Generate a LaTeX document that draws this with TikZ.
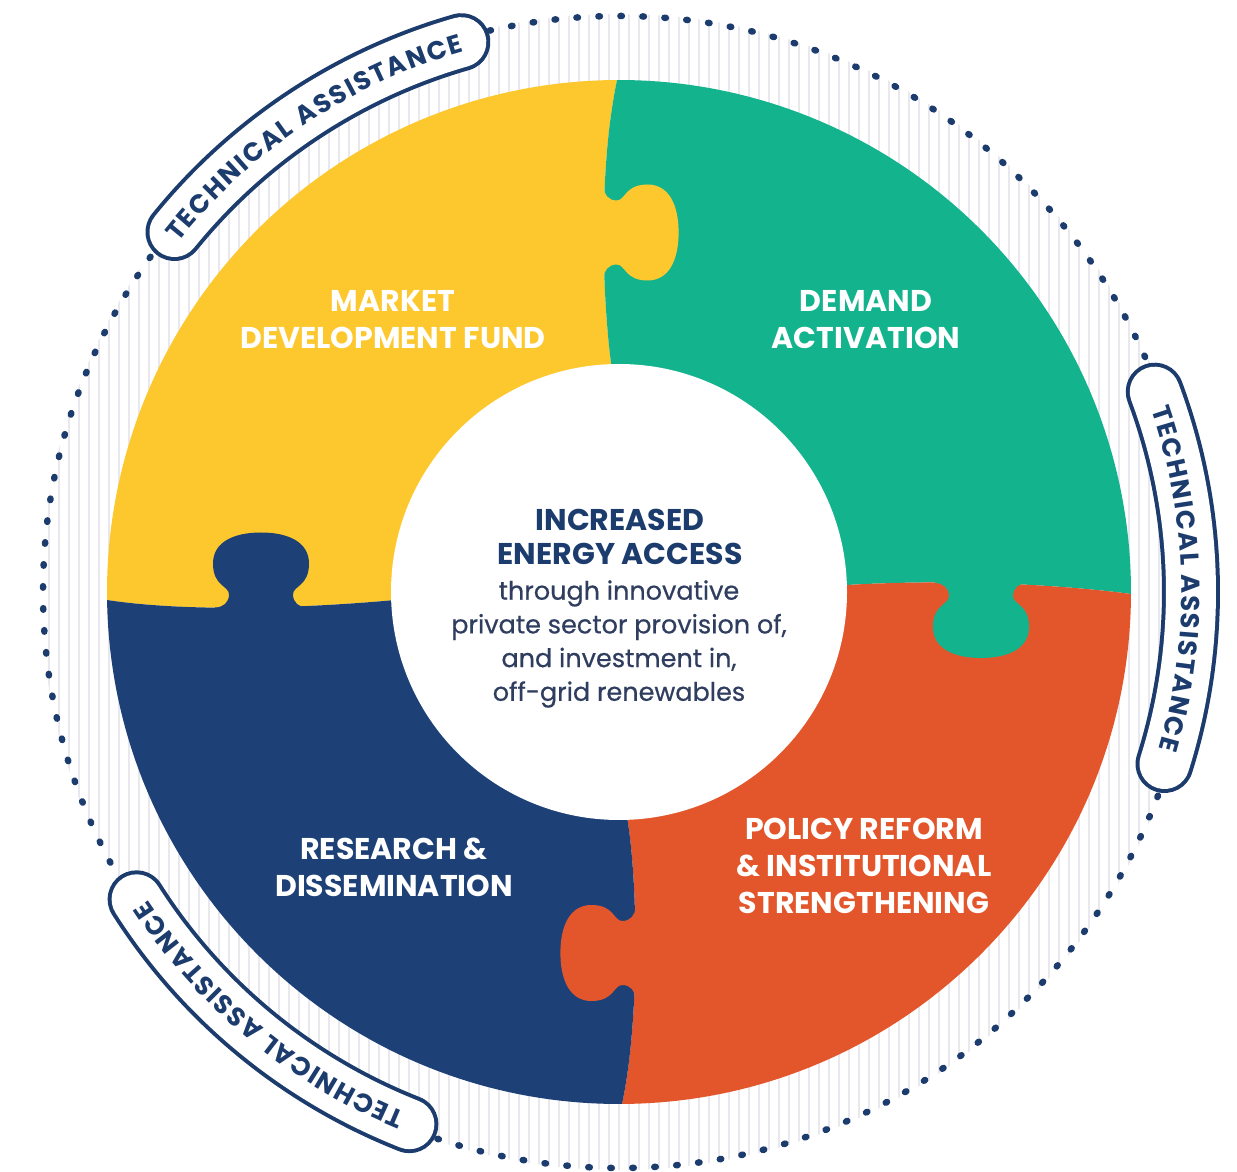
\documentclass[tikz,border=0pt]{standalone}
\usepackage{fontspec}
\setmainfont{Poppins}
\newfontfamily\submed{Poppins}[FakeBold=0.5]
\usetikzlibrary{decorations.text}
\definecolor{pyellow}{HTML}{FDC82E}
\definecolor{pgreen}{HTML}{13B38D}
\definecolor{porange}{HTML}{E3562B}
\definecolor{pblue}{HTML}{1D4177}
\definecolor{tanavy}{HTML}{1C3C6E}
\definecolor{subtxt}{HTML}{2F3D5E}
\definecolor{hatchc}{HTML}{E8E8EE}
\tikzset{
  hatch/.style={hatchc, line width=1.4pt},
  dotring/.style={tanavy, line width=6.5pt, line cap=round, dash pattern=on 1.5pt off 20.5pt},
  capout/.style={tanavy, line width=58pt, line cap=round},
  capin/.style={white, line width=50pt, line cap=round},
  piecelabel/.style={text=white, align=center, font=\bfseries\fontsize{30}{37}\selectfont},
  tadeco/.style={decorate, decoration={text along path, text={|\bfseries\fontsize{26}{26}\selectfont|TECHNICAL ASSISTANCE}, text align=fit to path, text color=tanavy, raise=-9.5pt}},
  tabshape/.pic={
    \fill[#1] (-20,-46) -- (0,-46) .. controls (0,-38) and (5,-32) .. (13,-32)
      .. controls (22,-32) and (21,-48) .. (44,-48)
      .. controls (65,-48) and (75,-28) .. (75,0)
      .. controls (75,28) and (65,48) .. (44,48)
      .. controls (21,48) and (22,32) .. (13,32)
      .. controls (5,32) and (0,38) .. (0,46) -- (-20,46) -- cycle;
  }
}
\begin{document}
\begin{tikzpicture}[x=1pt, y=1pt]
\useasboundingbox (0,0) rectangle (1237,1171);
\begin{scope}[shift={(619,579)}]
  % hatched ring
  \begin{scope}
    \clip (0,0) circle (578);
    \foreach \i in {-580,-570,...,580} \draw[hatch] (\i,-590) -- (\i,590);
  \end{scope}
  % dotted ring
  \draw[dotring] (0,0) circle (576);
  % puzzle pieces
  \fill[pyellow] (0,0) -- (-7,222) .. controls (-17,292) and (-21,422) .. (90.22:512)
     arc[start angle=90.22, end angle=180.9, radius=512]
     .. controls (-419,-22) and (-289,-14) .. (-224,-8) -- cycle;
  \fill[pgreen] (0,0) -- (-7,222) .. controls (-17,292) and (-21,422) .. (90.22:512)
     arc[start angle=90.22, end angle=-0.22, radius=512]
     .. controls (421,10) and (311,12) .. (228,7) -- cycle;
  \fill[porange] (0,0) -- (228,7) .. controls (311,12) and (421,10) .. (-0.22:512)
     arc[start angle=-0.22, end angle=-89.66, radius=512]
     .. controls (21,-428) and (19,-288) .. (8,-225) -- cycle;
  \fill[pblue] (0,0) -- (8,-225) .. controls (19,-288) and (21,-428) .. (-89.66:512)
     arc[start angle=-89.66, end angle=-179.1, radius=512]
     .. controls (-419,-22) and (-289,-14) .. (-224,-8) -- cycle;
  % tabs
  \pic[shift={(-15.4,359.5)}, rotate=0] {tabshape=pyellow};
  \pic[shift={(362,9)}, rotate=-90] {tabshape=pgreen};
  \pic[shift={(16.4,-361)}, rotate=180] {tabshape=porange};
  \pic[shift={(-358,-15.5)}, rotate=90] {tabshape=pblue};
  % centre disc
  \fill[white] (0,0) circle (228);
  % labels
  \node[piecelabel] (mdf) at (-226,272) {MARKET\\DEVELOPMENT FUND};
  \node[piecelabel] (da) at (247,272) {DEMAND\\ACTIVATION};
  \node[piecelabel] (rd) at (-225,-275) {RESEARCH \&\\DISSEMINATION};
  \node[piecelabel] (pr) at (245,-274) {POLICY REFORM\\\& INSTITUTIONAL\\STRENGTHENING};
  \node[text=tanavy, align=center, font=\bfseries\fontsize{30}{34}\selectfont] (goal) at (1,55) {INCREASED\\ENERGY ACCESS};
  \node[text=subtxt, align=center, font=\submed\fontsize{25.5}{33.7}\selectfont] (goalsub) at (0,-52) {through innovative\\private sector provision of,\\and investment in,\\off-grid renewables};
  % technical assistance capsules
  \draw[capout] (141:572) arc[start angle=141, end angle=106, radius=572];
  \draw[capin] (141:572) arc[start angle=141, end angle=106, radius=572];
  \path[tadeco] (141.6:572) arc[start angle=141.6, end angle=106, radius=572];
  \draw[capout] (20.5:572) arc[start angle=20.5, end angle=-17.5, radius=572];
  \draw[capin] (20.5:572) arc[start angle=20.5, end angle=-17.5, radius=572];
  \path[tadeco] (18.9:572) arc[start angle=18.9, end angle=-16.2, radius=572];
  \draw[capout] (-111.5:572) arc[start angle=-111.5, end angle=-147.5, radius=572];
  \draw[capin] (-111.5:572) arc[start angle=-111.5, end angle=-147.5, radius=572];
  \path[tadeco] (-112.3:572) arc[start angle=-112.3, end angle=-146.8, radius=572];
\end{scope}
\end{tikzpicture}
\end{document}
